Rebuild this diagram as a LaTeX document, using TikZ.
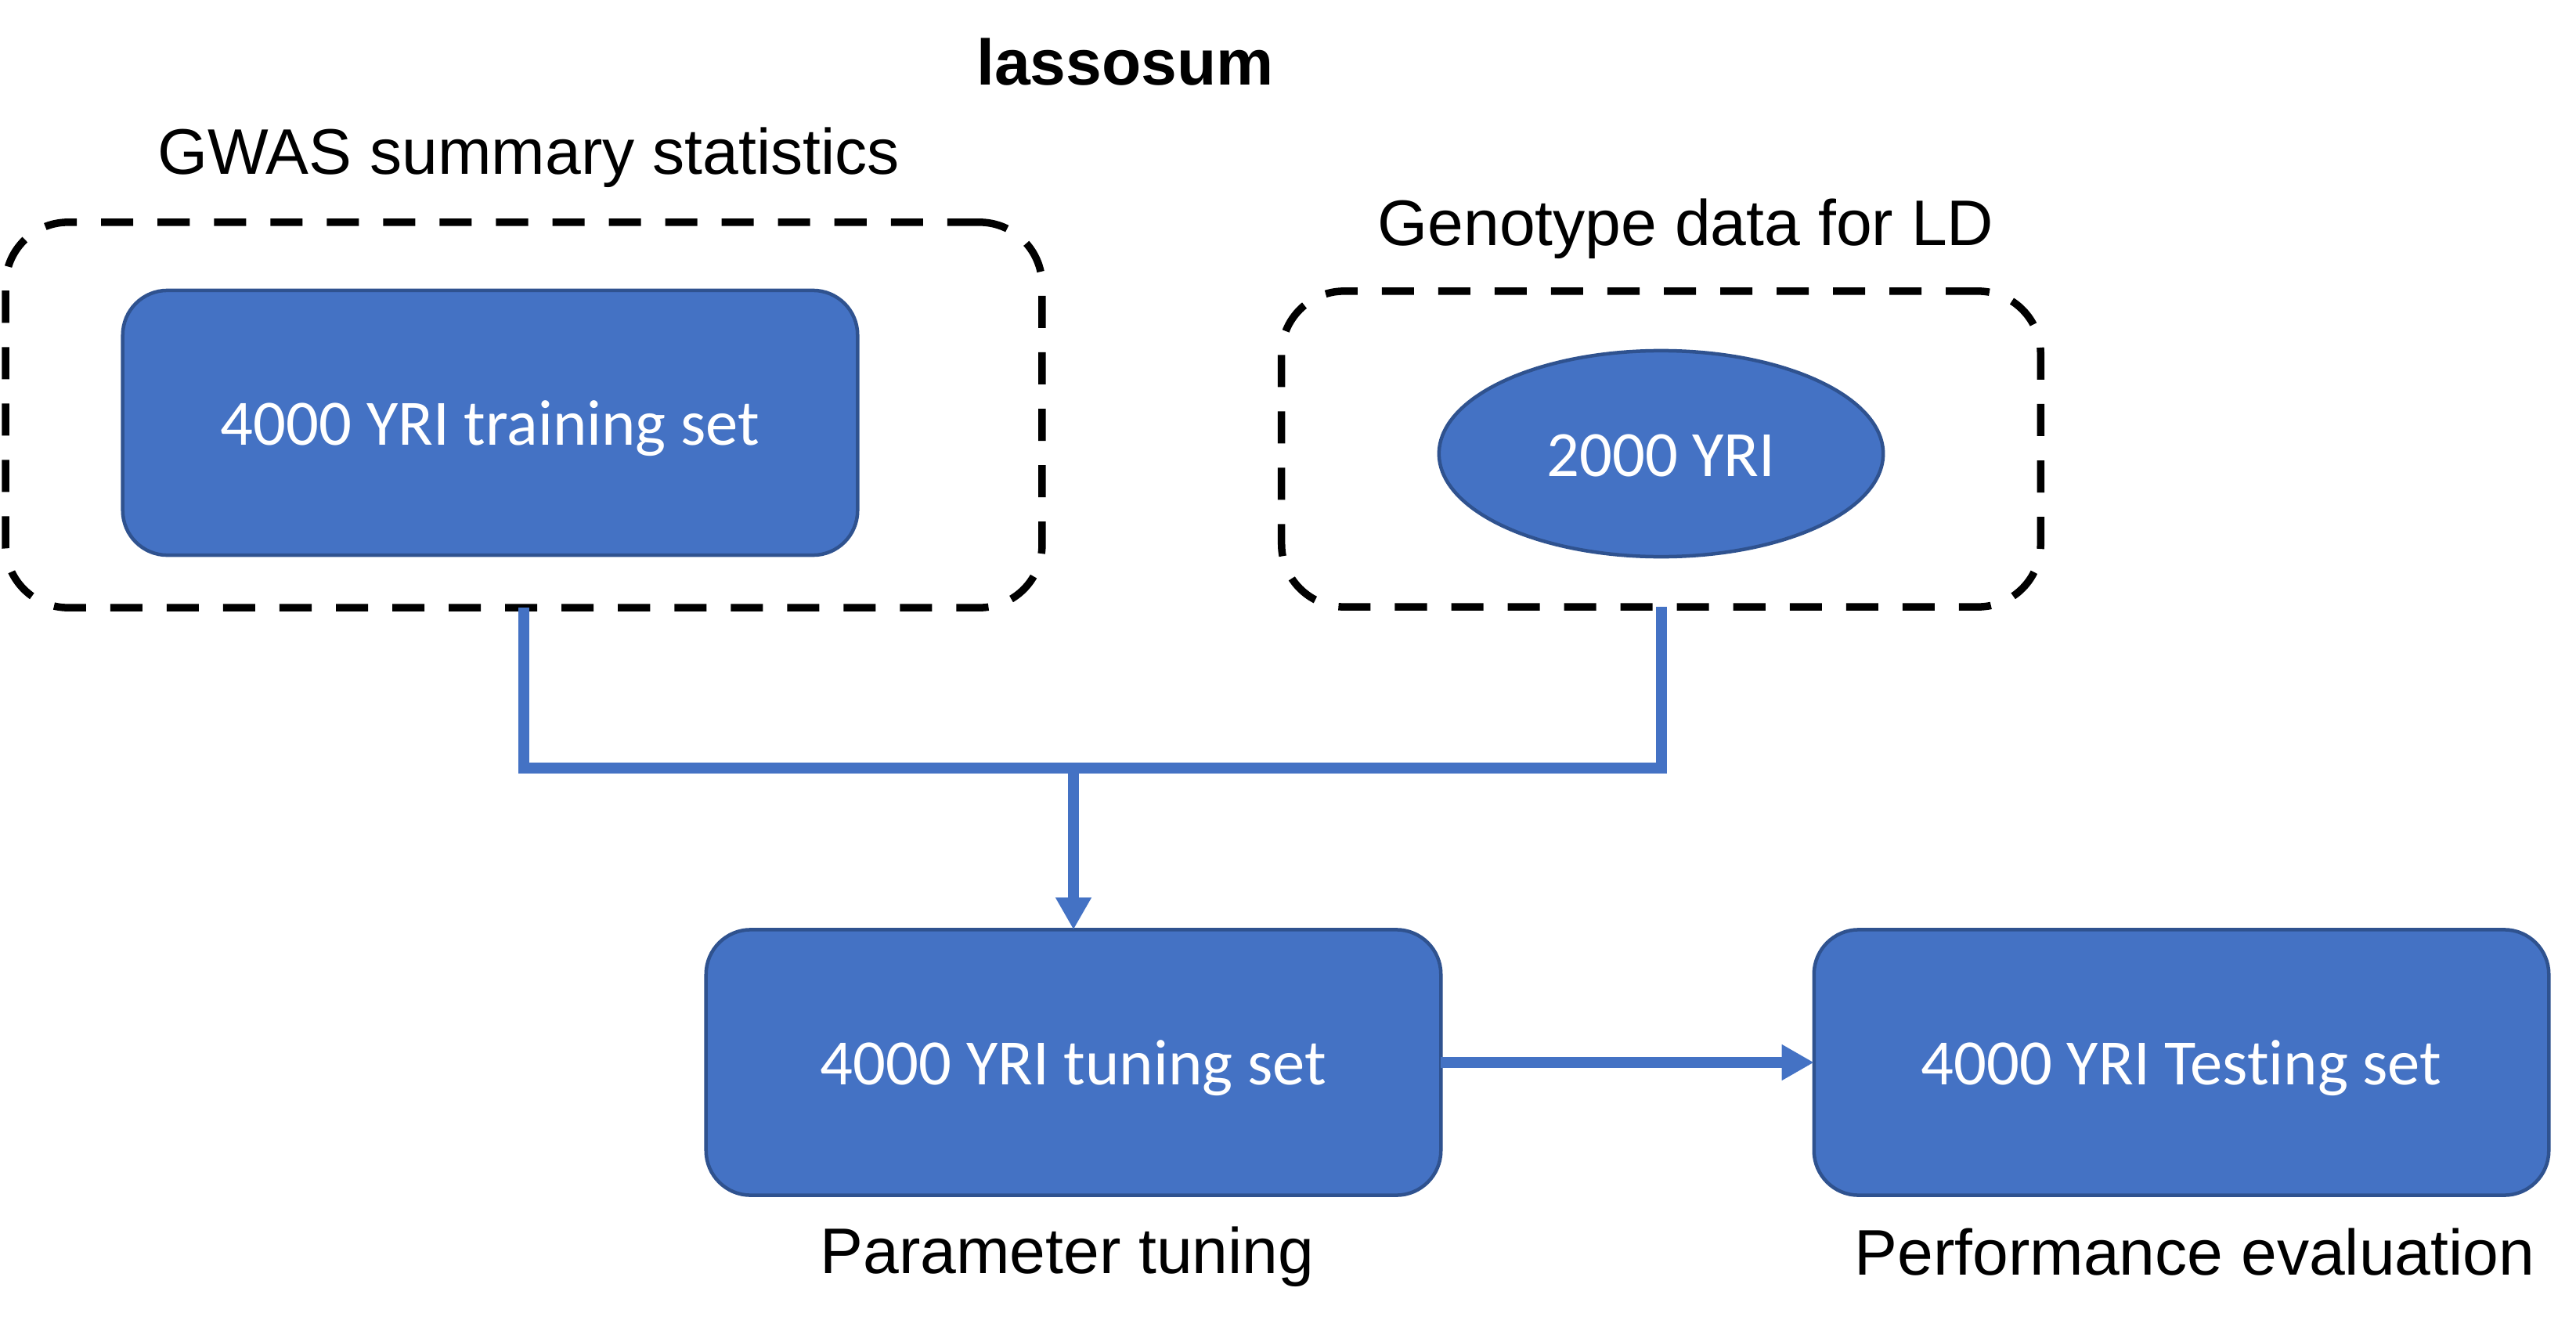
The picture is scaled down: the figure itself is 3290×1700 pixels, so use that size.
\documentclass[tikz,border=0pt]{standalone}
\usepackage{fontspec}
\setmainfont{Liberation Sans}
\newfontfamily\boxfont[Ligatures=NoCommon]{Carlito}
\usetikzlibrary{arrows.meta,shapes.geometric}
\definecolor{officeblue}{HTML}{4472C4}
\definecolor{officeborder}{HTML}{2F528F}
\tikzset{
  bluebox/.style={draw=officeborder, line width=0.045cm, fill=officeblue,
    rounded corners=0.57cm, minimum width=9.38cm, minimum height=3.39cm,
    inner sep=0pt, outer sep=0pt, text=white,
    font=\boxfont\fontsize{23.5pt}{28pt}\selectfont,
    text height=21pt, text depth=4.7pt},
  blueellipse/.style={ellipse, draw=officeborder, line width=0.045cm, fill=officeblue,
    minimum width=5.67cm, minimum height=2.63cm,
    inner sep=0pt, outer sep=0pt, text=white,
    font=\boxfont\fontsize{23.5pt}{28pt}\selectfont,
    text height=21pt, text depth=4.7pt},
  dashbox/.style={draw=black, line width=0.095cm, dash pattern=on 0.41cm off 0.31cm,
    rounded corners=0.8cm, inner sep=0pt, outer sep=0pt},
  lbl/.style={font=\fontsize{23.4pt}{28pt}\selectfont, anchor=base, inner sep=0pt},
  titletext/.style={font=\bfseries\fontsize{23.4pt}{28pt}\selectfont, anchor=base, inner sep=0pt},
  connector/.style={draw=officeblue, line width=0.14cm},
  tip/.style={-{Triangle[length=0.41cm,width=0.43cm]}}
}
\begin{document}
\begin{tikzpicture}[x=0.01cm,y=-0.01cm]
\useasboundingbox[fill=white] (0,0) rectangle (3290,1700);
\node[titletext] (title) at (1437,109) {lassosum};
\node[lbl] (gwaslabel) at (675,222) {GWAS summary statistics};
\node[lbl] (ldlabel) at (2153,314) {Genotype data for LD};
\node[dashbox, minimum width=13.23cm, minimum height=4.92cm] (gwasbox) at (669,530) {};
\node[bluebox, minimum height=3.38cm] (train) at (626,540) {4000 YRI training set};
\node[dashbox, minimum width=9.69cm, minimum height=4.03cm] (ldbox) at (2121.5,573.5) {};
\node[blueellipse] (yri) at (2121.5,579.5) {2000 YRI};
\node[bluebox] (tune) at (1371,1357) {4000 YRI tuning set};
\node[bluebox] (test) at (2786,1357) {4000 YRI Testing set};
\node[lbl] (ptlabel) at (1363,1626) {Parameter tuning};
\node[lbl] (pelabel) at (2803,1628) {Performance evaluation};
\coordinate (join) at (1371,981);
\draw[connector] (gwasbox.south) |- (join);
\draw[connector] (ldbox.south) |- (join);
\draw[connector, tip] (join) -- (tune.north);
\draw[connector, tip] (tune.east) -- (test.west);
\end{tikzpicture}
\end{document}
